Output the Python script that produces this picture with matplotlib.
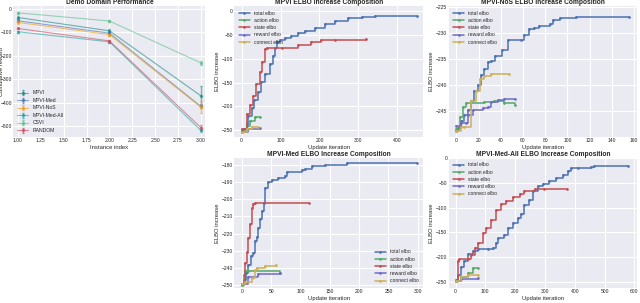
import matplotlib
matplotlib.use('Agg')

import matplotlib.pyplot as plt
import seaborn as sns

# ---- demo domain performance ----
instances = [1, 2, 3]
perf = {
    "MPVI":         [-36, -93, -371],
    "MPVI-Med":     [-50, -103, -416],
    "MPVI-NoS":     [-57, -109, -420],
    "MPVI-Med-All": [-97, -140, -519],
    "CSVI":         [-16, -51, -230],
    "RANDOM":       [-83, -136, -507],
}
perf_err = {
    "MPVI":         [5, 8, 43],
    "MPVI-Med":     [5, 6, 8],
    "MPVI-NoS":     [6, 8, 25],
    "MPVI-Med-All": [4, 5, 8],
    "CSVI":         [3, 4, 10],
    "RANDOM":       [4, 5, 10],
}
perf_colors = {
    "MPVI": "#16897f", "MPVI-Med": "#4c72b0", "MPVI-NoS": "#f39c12",
    "MPVI-Med-All": "#20a39e", "CSVI": "#5cbf8a", "RANDOM": "#d1495b",
}

# ---- ELBO composition curves (breakpoints) ----
mpvi_total_x = [0, 7, 13, 17, 26, 32, 41, 51, 60, 73, 81, 85, 90, 98, 111, 128, 145, 162, 188, 214, 239, 274, 308, 342, 451]
mpvi_total_y = [-252, -247, -237, -220, -203, -186, -169, -148, -131, -111, -94, -77, -65, -61, -56, -52, -46, -41, -35, -27, -20, -14, -11, -9.5, -9.5]
mpvi_state_x = [0, 13, 21, 30, 38, 47, 53, 60, 64, 103, 145, 179, 205, 239, 320]
mpvi_state_y = [-247, -216, -196, -179, -152, -128, -107, -80, -77, -77, -70, -65, -61, -60, -58.5]
mpvi_action_x = [0, 13, 21, 34, 47]
mpvi_action_y = [-250, -240, -230, -222, -222]
mpvi_reward_x = [0, 17, 47]
mpvi_reward_y = [-254, -247, -246]
mpvi_connect_x = [0, 13, 26, 43]
mpvi_connect_y = [-254, -247, -244, -244]

nos_total_x = [0, 1.5, 4, 7, 10, 13, 16, 19, 22, 25, 28, 31, 35, 41, 46, 58, 61, 65, 70, 74, 84, 87, 93, 108, 155]
nos_total_y = [-248.7, -248.1, -246.9, -245.7, -244.8, -243, -241, -239.9, -238, -236.8, -235.6, -235.3, -234.4, -233.2, -231.3, -231.3, -230.4, -229.2, -229, -228.6, -228.3, -227.4, -227.1, -226.9, -226.9]
nos_state_x = []
nos_state_y = []
nos_action_x = [0, 3, 6, 9, 25, 34, 43, 53]
nos_action_y = [-248.4, -246, -244.1, -243.4, -243.2, -243.1, -243.4, -243.7]
nos_reward_x = [0, 4, 9, 10, 15, 24, 28, 31, 37, 43, 53]
nos_reward_y = [-247.8, -247.3, -247.3, -245.7, -244.8, -244.3, -244.1, -243.2, -242.9, -242.7, -242.7]
nos_connect_x = [0, 4, 7, 13, 18, 21, 25, 31, 47]
nos_connect_y = [-248.7, -248, -248, -243, -241, -238.7, -238.2, -237.9, -237.8]

med_total_x = [0, 3, 7, 11, 16, 19, 23, 26, 27, 31, 34, 37, 40, 44, 51, 62, 74, 77, 102, 108, 119, 142, 179, 299]
med_total_y = [-250, -247, -243, -238, -233, -231, -224.5, -222, -216.7, -211.8, -207, -202, -193.7, -190, -189, -187.8, -186.3, -184, -183.3, -182.4, -180.8, -180, -179, -178.8]
med_state_x = [0, 6, 9, 11, 14, 17, 19, 23, 115]
med_state_y = [-249, -237, -230.4, -222.5, -214.7, -205, -203, -202.4, -202.4]
med_action_x = [0, 3, 6, 11, 65]
med_action_y = [-250, -244, -242, -242, -242.7]
med_reward_x = [0, 11, 28, 65]
med_reward_y = [-249, -245, -243.7, -243]
med_connect_x = [0, 6, 17, 22, 26, 40, 58]
med_connect_y = [-249, -248, -246, -241, -240, -238.6, -238.2]

all_total_x = [0, 8, 19, 30, 41, 58, 75, 108, 125, 136, 142, 164, 175, 192, 209, 220, 231, 248, 259, 276, 293, 315, 337, 360, 377, 388, 410, 455, 466, 580]
all_total_y = [-249, -237, -220, -207, -194, -188, -184, -183, -181, -171, -161, -156, -141, -131, -121, -112, -95, -85, -66, -56, -52, -46, -40, -33, -26, -20, -19, -17, -15, -15]
all_state_x = [0, 8, 13, 41, 53, 64, 75, 92, 103, 120, 136, 153, 170, 192, 215, 231, 265, 298, 374]
all_state_y = [-247, -207, -203, -203, -195, -181, -171, -151, -141, -125, -105, -92, -86, -79, -73, -66, -63, -61, -61]
all_action_x = [0, 19, 41, 58, 75]
all_action_y = [-249, -241, -231, -221, -221]
all_reward_x = [0, 19, 75]
all_reward_y = [-249, -244, -243]
all_connect_x = [0, 19, 41, 75]
all_connect_y = [-249, -241, -236, -236]

elbo_names = ["total elbo", "action elbo", "state elbo", "reward elbo", "connect elbo"]
elbo_colors = ["#4c72b0", "#55a868", "#c44e52", "#6f6cc6", "#ccb05a"]

sns.set_style("darkgrid")
plt.rcParams['font.family'] = ['Liberation Sans', 'DejaVu Sans']

fig = plt.figure(figsize=(6.4, 3.03), dpi=100)
ax_perf = fig.add_axes([0.021, 0.548, 0.300, 0.432])
ax_mpvi = fig.add_axes([0.366, 0.548, 0.295, 0.432])
ax_nos  = fig.add_axes([0.701, 0.548, 0.295, 0.432])
ax_med  = fig.add_axes([0.366, 0.050, 0.295, 0.429])
ax_all  = fig.add_axes([0.701, 0.050, 0.295, 0.429])

TICK = 3.6
LAB = 4.2
TITLE = 4.8
LEG = 3.6

for name, vals in perf.items():
    ax_perf.errorbar(instances, vals, yerr=perf_err[name], color=perf_colors[name],
                     marker=".", markersize=3, linewidth=0.8, alpha=0.6,
                     elinewidth=1.0, capsize=1, label=name)
ax_perf.set_xlim(0.95, 3.05)
ax_perf.set_ylim(-547, 13)
ax_perf.set_title("Demo Domain Performance", fontsize=TITLE, fontweight="bold", pad=1.5)
ax_perf.set_xlabel("Instance index", fontsize=LAB, labelpad=1)
ax_perf.set_ylabel("Cumulative reward", fontsize=LAB)
ax_perf.yaxis.set_label_coords(-0.05, 0.5)
ax_perf.legend(loc="lower left", fontsize=LEG, frameon=False, handlelength=2.2,
               labelspacing=0.5, borderaxespad=0.4)


def elbo_panel(ax, title, curves, xlim, ylim, legend_loc):
    for (xs, ys), name, col in zip(curves, elbo_names, elbo_colors):
        ax.plot(xs, ys, drawstyle="steps-post", color=col, marker=".", markersize=1.8,
                linewidth=1.1, label=name)
    ax.set_xlim(*xlim)
    ax.set_ylim(*ylim)
    ax.set_title(title, fontsize=TITLE, fontweight="bold", pad=1.5)
    ax.set_xlabel("Update iteration", fontsize=LAB, labelpad=1)
    ax.set_ylabel("ELBO increase", fontsize=LAB, labelpad=1)
    ax.legend(loc=legend_loc, fontsize=LEG, frameon=False, handlelength=2.2,
              labelspacing=0.45, borderaxespad=0.5)


elbo_panel(ax_mpvi, "MPVI ELBO Increase Composition",
           [(mpvi_total_x, mpvi_total_y), (mpvi_action_x, mpvi_action_y),
            (mpvi_state_x, mpvi_state_y), (mpvi_reward_x, mpvi_reward_y),
            (mpvi_connect_x, mpvi_connect_y)],
           (-19, 466), (-264, 11), "upper left")
elbo_panel(ax_nos, "MPVI-NoS ELBO Increase Composition",
           [(nos_total_x, nos_total_y), (nos_action_x, nos_action_y),
            (nos_state_x, nos_state_y), (nos_reward_x, nos_reward_y),
            (nos_connect_x, nos_connect_y)],
           (-7, 163), (-249.9, -224.8), "upper left")
elbo_panel(ax_med, "MPVI-Med ELBO Increase Composition",
           [(med_total_x, med_total_y), (med_action_x, med_action_y),
            (med_state_x, med_state_y), (med_reward_x, med_reward_y),
            (med_connect_x, med_connect_y)],
           (-13, 309), (-251.5, -176), "lower right")
elbo_panel(ax_all, "MPVI-Med-All ELBO Increase Composition",
           [(all_total_x, all_total_y), (all_action_x, all_action_y),
            (all_state_x, all_state_y), (all_reward_x, all_reward_y),
            (all_connect_x, all_connect_y)],
           (-23, 610), (-262, 1), "upper left")

for ax in [ax_perf, ax_mpvi, ax_nos, ax_med, ax_all]:
    ax.tick_params(labelsize=TICK, pad=1, length=0)
    for sp in ax.spines.values():
        sp.set_visible(False)

fig.savefig("out.png", dpi=100)
